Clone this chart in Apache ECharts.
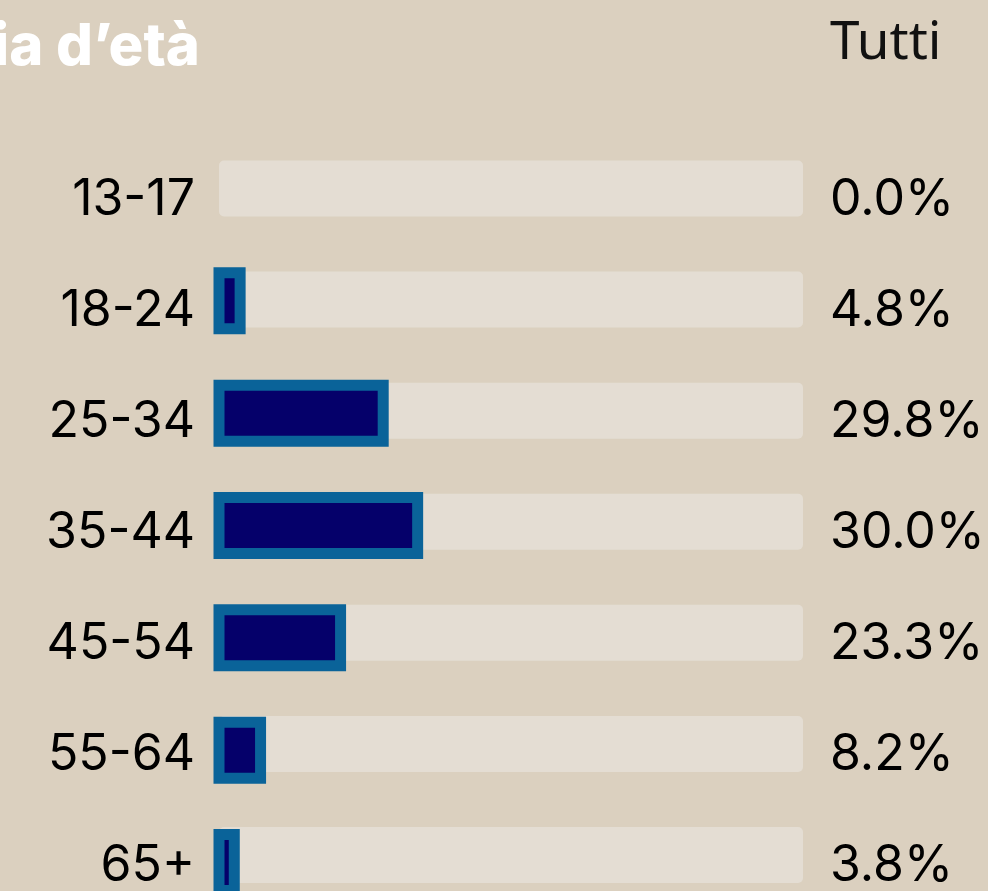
<!DOCTYPE html>
<html><head><meta charset="utf-8">
<script src="https://cdn.jsdelivr.net/npm/echarts@6/dist/echarts.min.js"></script>
<style>html,body{margin:0;padding:0;background:#DBD0BF;} #c{width:988px;height:891px;}</style>
</head><body><div id="c"></div>
<script>
// ---- data ----
const categories = ['13-17', '18-24', '25-34', '35-44', '45-54', '55-64', '65+'];
const barValues = [0, 5.5, 30.0, 35.9, 22.7, 9.0, 4.5];          // bar length, % of track
const percentLabels = ['0.0%', '4.8%', '29.8%', '30.0%', '23.3%', '8.2%', '3.8%'];
const headerLeft = 'Fascia d\u2019età';
const headerRight = 'Tutti';

// ---- style ----
const BG = '#DBD0BF', TRACK = '#E4DDD3', BORDER = '#0A6399', FILL = '#05006A';
const numFont = 'Inter';
// first and last row centres (category ticks sit on the grid edges)
const gridTop = 188.5, gridHeight = 674;

const chart = echarts.init(document.getElementById('c'), null, {renderer: 'canvas'});
chart.setOption({
  backgroundColor: BG,
  animation: false,
  title: [
    {text: headerLeft, right: 788, top: 19, padding: 0,
     textStyle: {color: '#FFFFFF', fontFamily: 'Inter', fontWeight: 800, fontSize: 58}},
    {text: headerRight, left: 830, top: 17, padding: 0,
     textStyle: {color: '#111111', fontFamily: 'Noto Sans', fontWeight: 400, fontSize: 53}}
  ],
  grid: [
    {left: 219, width: 584, top: gridTop, height: gridHeight},
    {left: 213.5, width: 584, top: gridTop, height: gridHeight}
  ],
  xAxis: [
    {gridIndex: 0, type: 'value', min: 0, max: 100, show: false},
    {gridIndex: 1, type: 'value', min: 0, max: 100, show: false}
  ],
  yAxis: [
    {gridIndex: 0, type: 'category', data: categories, inverse: true, boundaryGap: false,
     axisLine: {show: false}, axisTick: {show: false}, splitLine: {show: false},
     axisLabel: {margin: 24, color: '#000', fontFamily: numFont, fontSize: 50,
                 verticalAlign: 'top', lineHeight: 22}},
    {gridIndex: 0, type: 'category', data: percentLabels, inverse: true, position: 'right', boundaryGap: false,
     axisLine: {show: false}, axisTick: {show: false}, splitLine: {show: false},
     axisLabel: {margin: 27, align: 'left', color: '#000', fontFamily: numFont, fontSize: 50,
                 verticalAlign: 'top', lineHeight: 22}},
    {gridIndex: 1, type: 'category', data: categories, inverse: true, boundaryGap: false, show: false}
  ],
  series: [
    {
      name: 'track', type: 'bar', xAxisIndex: 0, yAxisIndex: 0, silent: true,
      data: barValues, barWidth: 56,
      itemStyle: {color: 'rgba(0,0,0,0)'},
      showBackground: true,
      backgroundStyle: {color: TRACK, borderRadius: 5}
    },
    {
      name: 'Tutti', type: 'bar', xAxisIndex: 1, yAxisIndex: 2, silent: true,
      data: barValues.map(v => v === 0 ? {value: v, itemStyle: {borderWidth: 0}} : v),
      barWidth: 67,
      itemStyle: {color: FILL, borderColor: BORDER, borderWidth: 11}
    }
  ]
});
</script>
</body></html>
